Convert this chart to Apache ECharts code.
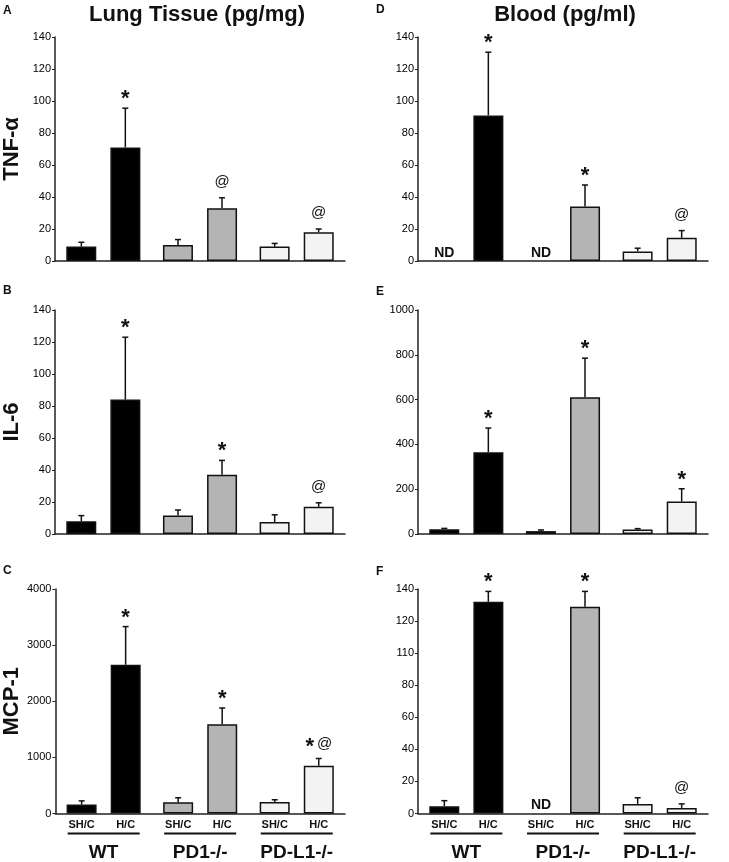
<!DOCTYPE html>
<html>
<head>
<meta charset="utf-8">
<script src="https://cdn.jsdelivr.net/npm/echarts@6/dist/echarts.min.js"></script>
<style>html,body{margin:0;padding:0;background:#fff}#c{width:729px;height:862px}</style>
</head>
<body>
<div id="c"></div>
<script>
// ---- data ----
const groups = ['WT', 'PD1-/-', 'PD-L1-/-'];
const treatments = ['SH/C', 'H/C'];
// order: WT SH/C, WT H/C, PD1 SH/C, PD1 H/C, PD-L1 SH/C, PD-L1 H/C ; null = ND
const tnfLung      = [9, 71, 10, 33, 9, 18];
const tnfLungErr   = [2.7, 24.5, 3.4, 6.5, 2, 2];
const tnfLungMarks = ['', '*', '', '@', '', '@'];
const il6Lung      = [8, 84, 11.5, 37, 7.5, 17];
const il6LungErr   = [3.5, 39, 3.5, 9, 4.5, 2.5];
const il6LungMarks = ['', '*', '', '*', '', '@'];
const mcpLung      = [160, 2650, 200, 1590, 205, 850];
const mcpLungErr   = [65, 680, 80, 290, 40, 130];
const mcpLungMarks = ['', '*', '', '*', '', '* @'];
const tnfBlood      = [null, 91, null, 34, 6, 14.5];
const tnfBloodErr   = [0, 39.5, 0, 13.5, 2, 4.5];
const tnfBloodMarks = ['', '*', '', '*', '', '@'];
const il6Blood      = [21, 365, 13, 610, 20, 145];
const il6BloodErr   = [4, 108, 5, 175, 4, 57];
const il6BloodMarks = ['', '*', '', '*', '', '*'];
const mcpBlood      = [4.5, 132, null, 129, 6, 3.5];
const mcpBloodErr   = [3.5, 6.5, 0, 9.5, 3.8, 2.5];
const mcpBloodMarks = ['', '*', '', '*', '', '@'];
const yTicksF = ['0', '20', '40', '60', '80', '110', '120', '140'];

// ---- styles ----
const FONT = 'Liberation Sans, Arial, Helvetica, sans-serif';
const groupColors = ['#000000', '#b4b4b4', '#f3f3f3'];
const axisColor = '#222';

const panels = [
  {vals: tnfLung, err: tnfLungErr, marks: tnfLungMarks, max: 140, interval: 20, name: 'TNF-α', left: 55, top: 37, bottom: 601, showX: false},
  {vals: il6Lung, err: il6LungErr, marks: il6LungMarks, max: 140, interval: 20, name: 'IL-6', left: 55, top: 310, bottom: 328, showX: false},
  {vals: mcpLung, err: mcpLungErr, marks: mcpLungMarks, max: 4000, interval: 1000, name: 'MCP-1', left: 55, top: 589, bottom: 48, showX: true},
  {vals: tnfBlood, err: tnfBloodErr, marks: tnfBloodMarks, max: 140, interval: 20, name: '', left: 418, top: 37, bottom: 601, showX: false},
  {vals: il6Blood, err: il6BloodErr, marks: il6BloodMarks, max: 1000, interval: 200, name: '', left: 418, top: 310, bottom: 328, showX: false},
  {vals: mcpBlood, err: mcpBloodErr, marks: mcpBloodMarks, max: 140, interval: 20, name: '', left: 418, top: 589, bottom: 48, showX: true, ticks: yTicksF}
];

const grid = [], xAxis = [], yAxis = [], series = [];
panels.forEach((p, k) => {
  grid.push({left: p.left, width: 290, top: p.top, bottom: p.bottom, containLabel: false});
  xAxis.push({
    type: 'category', gridIndex: k, data: groups,
    axisLine: {show: true, lineStyle: {color: axisColor, width: 1.5}},
    axisTick: {show: false},
    axisLabel: p.showX ? {
      show: true, margin: 5, interval: 0,
      formatter: v => '{a|' + treatments[0] + '}{b|' + treatments[1] + '}\n{u| }\n{g|' + v + '}',
      rich: {
        a: {fontFamily: FONT, fontSize: 11, fontWeight: 'bold', color: '#111', width: 44, align: 'center', lineHeight: 13},
        b: {fontFamily: FONT, fontSize: 11, fontWeight: 'bold', color: '#111', width: 44, align: 'center', lineHeight: 13},
        u: {width: 72, height: 2, backgroundColor: '#111', lineHeight: 4, fontSize: 1},
        g: {fontFamily: FONT, fontSize: 19, fontWeight: 'bold', color: '#111', lineHeight: 34}
      }
    } : {show: false}
  });
  yAxis.push({
    type: 'value', gridIndex: k, min: 0, max: p.max, interval: p.interval,
    name: p.name, nameLocation: 'middle', nameRotate: 90, nameGap: 32,
    nameTextStyle: {fontFamily: FONT, fontSize: 22, fontWeight: 'bold', color: '#111'},
    axisLine: {show: true, lineStyle: {color: axisColor, width: 1.5}},
    axisTick: {show: true, length: 3, lineStyle: {color: axisColor, width: 1}},
    splitLine: {show: false},
    axisLabel: {fontFamily: FONT, fontSize: 11, color: '#000', margin: 4,
      formatter: p.ticks ? (v => p.ticks[Math.round(v / p.interval)]) : (v => String(v))}
  });
  treatments.forEach((t, ti) => {
    series.push({
      type: 'bar', xAxisIndex: k, yAxisIndex: k, name: t,
      barWidth: 30, barGap: '47%',
      data: groups.map((g, gi) => {
        const v = p.vals[gi * 2 + ti];
        return {value: v === null ? '-' : v,
          itemStyle: {color: groupColors[gi], borderColor: '#111', borderWidth: 1.5}};
      }),
      silent: true
    });
  });
  const items = [];
  groups.forEach((g, gi) => treatments.forEach((t, ti) => {
    const idx = gi * 2 + ti;
    items.push({value: [gi, ti, p.vals[idx] === null ? 0 : p.vals[idx], p.err[idx]],
      nd: p.vals[idx] === null, mark: p.marks[idx]});
  }));
  series.push({
    type: 'custom', xAxisIndex: k, yAxisIndex: k, z: 5, clip: false, silent: true,
    data: items.map(d => d.value),
    renderItem: (params, api) => {
      const d = items[params.dataIndex];
      const g = api.value(0), t = api.value(1), v = api.value(2), e = api.value(3);
      const off = (t === 0 ? -1 : 1) * 22;
      const children = [];
      const p0 = api.coord([g, v]);
      const x = p0[0] + off;
      if (d.nd) {
        children.push({type: 'text', style: {text: 'ND', x: x, y: p0[1] - 8,
          textAlign: 'center', textVerticalAlign: 'middle',
          font: 'bold 14px ' + FONT, fill: '#111'}});
        return {type: 'group', children};
      }
      const p1 = api.coord([g, v + e]);
      children.push({type: 'line', shape: {x1: x, y1: p0[1], x2: x, y2: p1[1]},
        style: {stroke: '#111', lineWidth: 1.5}});
      children.push({type: 'line', shape: {x1: x - 3, y1: p1[1], x2: x + 3, y2: p1[1]},
        style: {stroke: '#111', lineWidth: 1.5}});
      if (d.mark) {
        if (d.mark === '* @') {
          children.push({type: 'text', style: {text: '*', x: x - 9, y: p1[1] - 12,
            textAlign: 'center', textVerticalAlign: 'middle', font: 'bold 22px ' + FONT, fill: '#111'}});
          children.push({type: 'text', style: {text: '@', x: x + 6, y: p1[1] - 15,
            textAlign: 'center', textVerticalAlign: 'middle', font: '15px ' + FONT, fill: '#111'}});
        } else if (d.mark === '*') {
          children.push({type: 'text', style: {text: '*', x: x, y: p1[1] - 9,
            textAlign: 'center', textVerticalAlign: 'middle', font: 'bold 22px ' + FONT, fill: '#111'}});
        } else {
          children.push({type: 'text', style: {text: d.mark, x: x, y: p1[1] - 16,
            textAlign: 'center', textVerticalAlign: 'middle', font: '15px ' + FONT, fill: '#111'}});
        }
      }
      return {type: 'group', children};
    }
  });
});

const letterStyle = {fontFamily: FONT, fontSize: 12, fontWeight: 'bold', color: '#111'};
const titleStyle = {fontFamily: FONT, fontSize: 22, fontWeight: 'bold', color: '#111'};
const option = {
  animation: false,
  backgroundColor: '#fff',
  title: [
    {text: 'Lung Tissue (pg/mg)', left: 197, top: 4, textAlign: 'center', textStyle: titleStyle, padding: 0},
    {text: 'Blood (pg/ml)', left: 565, top: 4, textAlign: 'center', textStyle: titleStyle, padding: 0},
    {text: 'A', left: 3, top: 5, textStyle: letterStyle, padding: 0},
    {text: 'B', left: 3, top: 285, textStyle: letterStyle, padding: 0},
    {text: 'C', left: 3, top: 565, textStyle: letterStyle, padding: 0},
    {text: 'D', left: 376, top: 4, textStyle: letterStyle, padding: 0},
    {text: 'E', left: 376, top: 286, textStyle: letterStyle, padding: 0},
    {text: 'F', left: 376, top: 566, textStyle: letterStyle, padding: 0}
  ],
  grid, xAxis, yAxis, series
};
const chart = echarts.init(document.getElementById('c'), null, {renderer: 'canvas'});
chart.setOption(option);
</script>
</body>
</html>
